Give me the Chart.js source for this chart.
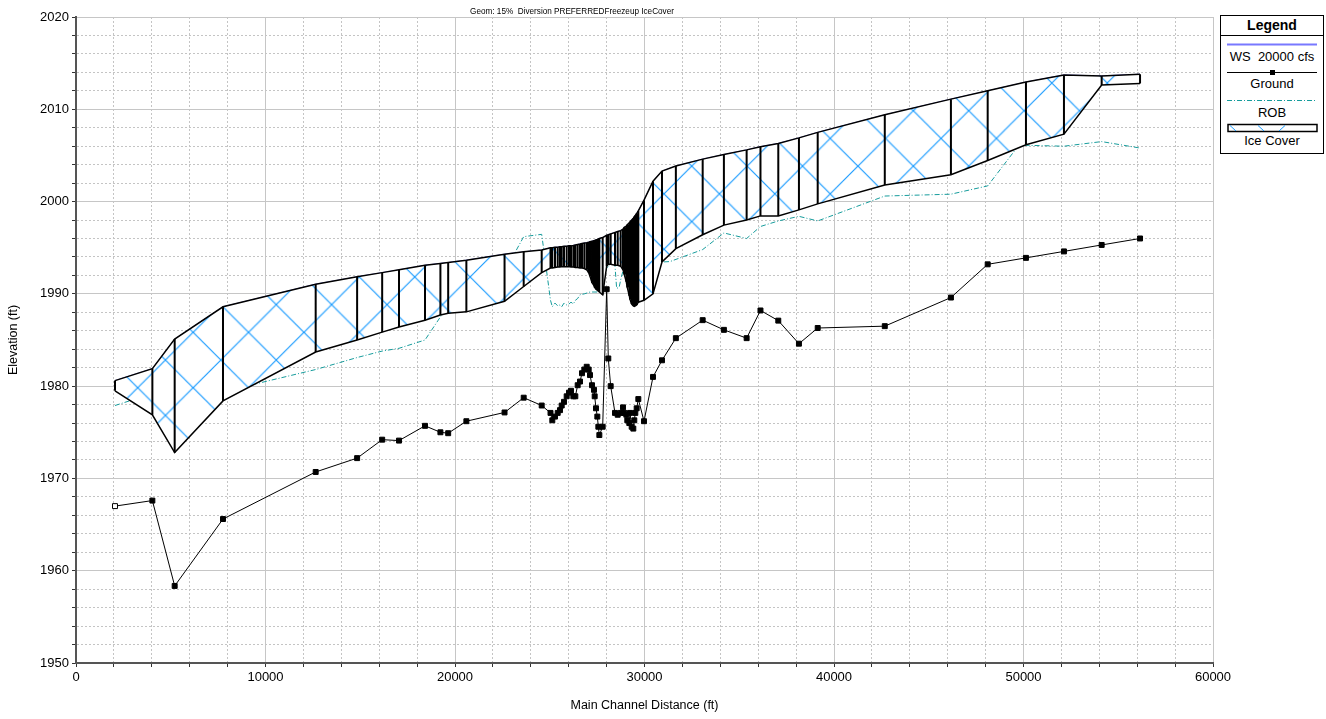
<!DOCTYPE html>
<html>
<head>
<meta charset="utf-8">
<script src="https://cdn.jsdelivr.net/npm/chart.js@4.4.1/dist/chart.umd.min.js"></script>
<style>
  html, body { margin: 0; padding: 0; background: #fff; }
  #wrap { position: relative; width: 1326px; height: 719px; overflow: hidden;
          font-family: "Liberation Sans", Arial, sans-serif; color: #000; }
  #plot { position: absolute; left: 0; top: 0; }
  #title { position: absolute; left: 372px; top: 5px; width: 400px; text-align: center;
           font-size: 9.5px; line-height: 12px; white-space: pre; transform: scaleX(0.86); }
  #legend { position: absolute; left: 1220px; top: 15px; width: 102px; height: 137px;
            border: 1px solid #000; background: #fff; }
  #legend svg { position: absolute; left: 0; top: 0; }
  #legend .t { position: absolute; left: 0; width: 102px; text-align: center;
               font-size: 13px; height: 16px; line-height: 16px; white-space: pre; }
  #legend .h { font-weight: bold; font-size: 14px; top: 0; height: 19px; line-height: 19px; }
</style>
</head>
<body>
<div id="wrap">
  <canvas id="plot" width="1326" height="719"></canvas>
  <div id="title">Geom: 15%  Diversion PREFERREDFreezeup IceCover</div>
  <div id="legend">
    <svg width="102" height="137" viewBox="0 0 102 137">
      <line x1="0" y1="19.5" x2="102" y2="19.5" stroke="#000" stroke-width="1"/>
      <line x1="6" y1="28.5" x2="96" y2="28.5" stroke="#7878ff" stroke-width="2"/>
      <line x1="6" y1="56.5" x2="96" y2="56.5" stroke="#000" stroke-width="1"/>
      <rect x="49" y="54" width="5" height="5" fill="#000"/>
      <line x1="6" y1="84.5" x2="96" y2="84.5" stroke="#169c9c" stroke-width="1" stroke-dasharray="5 2 1 2"/>
      <rect x="7" y="108.5" width="89" height="7" fill="#fff" stroke="#000" stroke-width="1.5"/>
      <line x1="9" y1="109.5" x2="15" y2="115" stroke="#1a9cff" stroke-width="1"/>
      <line x1="37" y1="109.5" x2="43" y2="115" stroke="#1a9cff" stroke-width="1"/>
      <line x1="58" y1="115" x2="64" y2="109.5" stroke="#1a9cff" stroke-width="1"/>
    </svg>
    <div class="t h">Legend</div>
    <div class="t" style="top:33px">WS  20000 cfs</div>
    <div class="t" style="top:60px">Ground</div>
    <div class="t" style="top:89px">ROB</div>
    <div class="t" style="top:117px">Ice Cover</div>
  </div>
</div>
<script>
// River stations of the cross sections (ft along the main channel)
const stations = [
  2058, 4030, 5207, 7757, 12648, 14835, 16157, 17045, 18417, 19230,
  19640, 20600, 22615, 23625, 24575, 25040, 25135, 25277, 25420, 25541,
  25631, 25752, 25893, 26016, 26121, 26245, 26350, 26474, 26596, 26702,
  26824, 26950, 27055, 27124, 27230, 27335, 27371, 27440, 27511, 27564,
  27617, 27793, 28004, 28090, 28215, 28443, 28585, 28742, 28865, 28934,
  29040, 29092, 29198, 29235, 29323, 29410, 29462, 29515, 29587, 29674,
  29974, 30449, 30923, 31655, 33070, 34190, 35390, 36120, 37060, 38150,
  39140, 42680, 46170, 48110, 50130, 52135, 54125, 56150
];
// Channel invert (ground) elevation at each station (ft)
const groundElev = [
  1967.0, 1967.6, 1958.35, 1965.6, 1970.7, 1972.2, 1974.2, 1974.1, 1975.7, 1975.0,
  1974.9, 1976.2, 1977.15, 1978.75, 1977.9, 1977.1, 1976.3, 1976.7, 1977.1, 1977.4,
  1977.9, 1978.3, 1978.9, 1979.3, 1979.5, 1978.9, 1978.9, 1980.1, 1980.5, 1981.4,
  1981.8, 1982.1, 1981.8, 1981.2, 1980.1, 1979.6, 1978.9, 1977.6, 1976.7, 1975.6,
  1974.7, 1975.6, 1990.5, 1983.0, 1980.0, 1977.1, 1976.9, 1977.1, 1977.7, 1977.1,
  1976.9, 1976.3, 1976.0, 1977.1, 1975.6, 1975.4, 1976.3, 1977.1, 1977.6, 1978.6,
  1976.2, 1981.0, 1982.8, 1985.2, 1987.15, 1986.1, 1985.2, 1988.2, 1987.1, 1984.6,
  1986.3, 1986.5, 1989.6, 1993.2, 1993.9, 1994.6, 1995.3, 1996.0
];
// Top of the ice cover (ft)
const iceTop = [
  1980.6, 1981.9, 1985.1, 1988.6, 1991.05, 1991.85, 1992.3, 1992.6, 1993.1, 1993.3,
  1993.4, 1993.65, 1994.3, 1994.55, 1994.75, 1995.0, 1995.0, 1995.05, 1995.05, 1995.1,
  1995.1, 1995.15, 1995.15, 1995.2, 1995.2, 1995.25, 1995.3, 1995.35, 1995.4, 1995.45,
  1995.5, 1995.55, 1995.6, 1995.65, 1995.7, 1995.75, 1995.8, 1995.85, 1995.9, 1995.95,
  1996.0, 1996.1, 1996.35, 1996.4, 1996.5, 1996.65, 1996.75, 1996.85, 1997.0, 1997.2,
  1997.35, 1997.5, 1997.7, 1997.8, 1998.0, 1998.2, 1998.35, 1998.5, 1998.7, 1999.0,
  2000.15, 2002.2, 2003.3, 2003.85, 2004.6, 2005.1, 2005.6, 2005.95, 2006.3, 2006.9,
  2007.5, 2009.4, 2011.1, 2012.0, 2012.95, 2013.72, 2013.62, 2013.8
];
// Underside of the ice cover (ft)
const iceBottom = [
  1979.5, 1976.9, 1972.8, 1978.4, 1983.7, 1985.0, 1985.85, 1986.4, 1987.15, 1987.7,
  1987.9, 1988.05, 1989.2, 1990.8, 1992.3, 1992.8, 1992.8, 1992.85, 1992.9, 1992.9,
  1992.95, 1992.95, 1992.95, 1992.95, 1992.9, 1992.9, 1992.85, 1992.85, 1992.8, 1992.8,
  1992.75, 1992.6, 1992.3, 1991.9, 1991.2, 1990.9, 1990.7, 1990.5, 1990.4, 1990.3,
  1990.2, 1989.9, 1993.0, 1993.2, 1993.2, 1993.1, 1993.1, 1993.0, 1992.6, 1992.1,
  1991.3, 1990.7, 1989.8, 1989.4, 1988.9, 1988.7, 1988.65, 1988.7, 1988.8, 1989.1,
  1989.3, 1990.0, 1993.45, 1994.9, 1996.4, 1997.45, 1998.0, 1998.45, 1998.45, 1999.1,
  1999.75, 2001.8, 2002.9, 2004.45, 2006.15, 2007.3, 2012.62, 2012.8
];
// Right overbank station line
const robStations = [
  2058, 4030, 5207, 7757, 12648, 14835, 16157, 17045, 18417, 19230,
  19640, 20600, 22615, 23625, 24575, 25040, 25135, 25277, 25420, 25541,
  25631, 25752, 25893, 26016, 26121, 26245, 26350, 26474, 26596, 26824,
  27124, 27388, 27650, 27793, 28004, 28090, 28215, 28355, 28443, 28530,
  28660, 28742, 28865, 29040, 29462, 29974, 30449, 30923, 31346, 33070,
  34190, 35390, 36120, 37060, 38150, 39140, 42680, 46170, 48110, 49640,
  50130, 52135, 54125, 56150
];
const robElev = [
  1977.9, 1979.2, 1979.3, 1979.4, 1981.8, 1983.1, 1983.8, 1984.1, 1985.0, 1987.5,
  1988.5, 1990.0, 1992.4, 1996.2, 1996.45, 1989.3, 1988.6, 1989.0, 1988.7, 1988.8,
  1988.6, 1989.0, 1988.8, 1988.9, 1989.1, 1988.9, 1989.3, 1989.5, 1989.9, 1990.0,
  1990.2, 1990.2, 1990.2, 1991.5, 1992.8, 1993.0, 1993.2, 1993.3, 1993.0, 1990.6,
  1990.7, 1991.5, 1992.5, 1993.0, 1993.0, 1993.1, 1993.2, 1993.45, 1993.5, 1994.8,
  1996.6, 1996.0, 1997.3, 1997.9, 1998.4, 1997.9, 2000.6, 2000.8, 2001.7, 2005.8,
  2006.1, 2006.0, 2006.5, 2005.8
];
// Labelled axis values
const xLabelValues = [0, 10000, 20000, 30000, 40000, 50000, 60000];
const yLabelValues = [1950, 1960, 1970, 1980, 1990, 2000, 2010, 2020];

const toPoints = (xs, ys) => xs.map((x, i) => ({ x: x, y: ys[i] }));

// One vertical stroke per cross section, from ice underside to ice top
const sectionLines = [];
stations.forEach((s, i) => {
  sectionLines.push({ x: s, y: iceBottom[i] }, { x: s, y: iceTop[i] }, { x: s, y: null });
});

// Diagonal cross-hatch used for the ice cover
function makeHatch(ctx) {
  const n = 56;
  const tile = document.createElement('canvas');
  tile.width = n; tile.height = n;
  const t = tile.getContext('2d');
  t.fillStyle = '#fff';
  t.fillRect(0, 0, n, n);
  t.strokeStyle = '#1a9cff';
  t.lineWidth = 1.2;
  t.beginPath();
  for (let k = -1; k <= 1; k++) {
    t.moveTo(k * n, 0); t.lineTo(k * n + n, n);
    t.moveTo(k * n + n, 0); t.lineTo(k * n, n);
  }
  t.stroke();
  const p = ctx.createPattern(tile, 'repeat');
  const s = 55.4 / n;
  p.setTransform(new DOMMatrix([s, 0, 0, s, 137.7, 387.7]));
  return p;
}

const canvas = document.getElementById('plot');
const ctx = canvas.getContext('2d');
const hatch = makeHatch(ctx);

Chart.defaults.font.family = '"Liberation Sans", Arial, sans-serif';
Chart.defaults.font.size = 13;
Chart.defaults.color = '#000';

const majorColor = '#c6c6c6';
const minorColor = '#c4c4c4';

new Chart(ctx, {
  type: 'line',
  data: {
    datasets: [
      { label: 'ROB', data: toPoints(robStations, robElev), borderColor: '#169c9c',
        borderWidth: 1, borderDash: [5, 2, 1, 2], pointRadius: 0, fill: false, order: 7 },
      { label: 'WS  20000 cfs', data: toPoints(stations, iceTop), borderColor: '#7878ff',
        borderWidth: 1, pointRadius: 0, fill: false, order: 6 },
      { label: 'Ice Cover', data: toPoints(stations, iceTop), borderColor: 'rgba(0,0,0,0)',
        borderWidth: 0, pointRadius: 0, fill: 3, backgroundColor: hatch, order: 5 },
      { label: 'Ice underside', data: toPoints(stations, iceBottom), borderColor: '#000',
        borderWidth: 1.5, pointRadius: 0, fill: false, order: 3 },
      { label: 'Sections', data: sectionLines, borderColor: '#000', borderWidth: 2,
        pointRadius: 0, fill: false, spanGaps: false, order: 4 },
      { label: 'Ice top', data: toPoints(stations, iceTop), borderColor: '#000',
        borderWidth: 1.5, pointRadius: 0, fill: false, order: 2 },
      { label: 'Ground', data: toPoints(stations, groundElev), borderColor: '#000',
        borderWidth: 1, fill: false, pointStyle: 'rect', pointRadius: 3.5,
        pointBorderWidth: 1, pointBorderColor: '#000',
        pointBackgroundColor: stations.map((s, i) => i === 0 ? '#fff' : '#000'), order: 1 }
    ]
  },
  options: {
    responsive: false,
    animation: false,
    events: [],
    layout: { padding: { left: 0, right: 113, top: 17, bottom: 0 } },
    plugins: { legend: { display: false }, tooltip: { enabled: false }, title: { display: false } },
    scales: {
      x: {
        type: 'linear', min: 0, max: 60000,
        afterFit: (s) => { s.height = 56; },
        ticks: { stepSize: 2000, maxTicksLimit: 100, autoSkip: false, maxRotation: 0, padding: 3,
                 color: '#000', font: { size: 13 },
                 callback: (v) => xLabelValues.includes(v) ? String(v) : '' },
        grid: { color: (c) => (c.tick && c.tick.value % 10000 === 0) ? majorColor : minorColor,
                lineWidth: 1, tickLength: 4, tickColor: '#333', tickWidth: 1 },
        border: { color: '#555', width: 2,
                  dash: (c) => (c.type === 'tick' && c.tick && c.tick.value % 10000 !== 0) ? [2, 2] : [] },
        title: { display: true, text: 'Main Channel Distance (ft)', color: '#000',
                 font: { size: 12.5 }, padding: { top: 0, bottom: 6 } }
      },
      y: {
        type: 'linear', min: 1950, max: 2020,
        afterFit: (s) => { s.width = 76; },
        ticks: { stepSize: 2, maxTicksLimit: 100, autoSkip: false, padding: 3,
                 color: '#000', font: { size: 13 },
                 callback: (v) => yLabelValues.includes(v) ? String(v) : '' },
        grid: { color: (c) => (c.tick && c.tick.value % 10 === 0) ? majorColor : minorColor,
                lineWidth: 1, tickLength: 4, tickColor: '#333', tickWidth: 1 },
        border: { color: '#555', width: 2,
                  dash: (c) => (c.type === 'tick' && c.tick && c.tick.value % 10 !== 0) ? [2, 2] : [] },
        title: { display: true, text: 'Elevation (ft)', color: '#000',
                 font: { size: 12.5 }, padding: { top: 6, bottom: 0 } }
      }
    }
  }
});
</script>
</body>
</html>
